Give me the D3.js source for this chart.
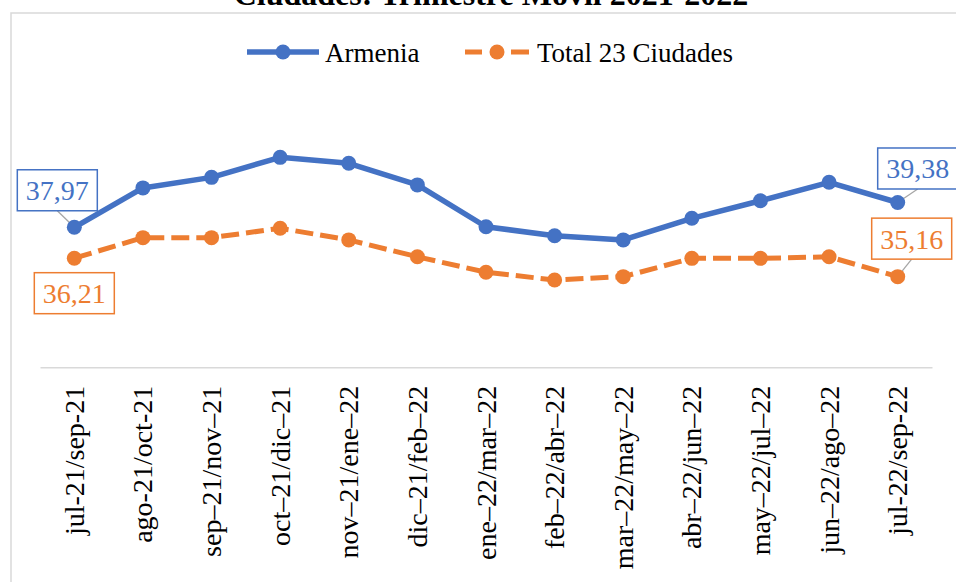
<!DOCTYPE html>
<html>
<head>
<meta charset="utf-8">
<script src="https://cdn.jsdelivr.net/npm/d3@7"></script>
<style>
  body { margin: 0; background: #fff; }
  svg { display: block; font-family: "Liberation Serif", "Times New Roman", serif; }
</style>
</head>
<body>
<div id="chart"></div>
<script>
// Rolling quarters (trimestre móvil)
var periods = [
    "jul-21/sep-21", "ago-21/oct-21", "sep–21/nov–21", "oct–21/dic–21",
    "nov–21/ene–22", "dic–21/feb–22", "ene–22/mar–22", "feb–22/abr–22",
    "mar–22/may–22", "abr–22/jun–22", "may–22/jul–22", "jun–22/ago–22",
    "jul-22/sep-22"
];
var armenia = [37.97, 40.21, 40.81, 41.95, 41.61, 40.38, 38.00, 37.49, 37.25, 38.48, 39.48, 40.53, 39.38];
var total23 = [36.21, 37.38, 37.38, 37.91, 37.25, 36.29, 35.41, 34.97, 35.16, 36.20, 36.20, 36.29, 35.16];
var seriesNames = ["Armenia", "Total 23 Ciudades"];
var titleLine = "Ciudades: Trimestre Móvil 2021-2022";

(function () {
    "use strict";

    var W = 956, H = 582;
    var blue = "#4472C4", orange = "#ED7D31", grey = "#d9d9d9";
    var serif = "Liberation Serif, Times New Roman, serif";

    var svg = d3.select("#chart").append("svg")
        .attr("width", W)
        .attr("height", H);

    // chart area frame (cut off on the right and bottom)
    svg.append("rect")
        .attr("x", 11).attr("y", 13)
        .attr("width", 980).attr("height", 600)
        .attr("fill", "#fff")
        .attr("stroke", grey)
        .attr("stroke-width", 1.5);

    // title, cut off at the top like in the source image
    svg.append("text")
        .attr("x", 491).attr("y", 5)
        .attr("text-anchor", "middle")
        .attr("font-size", "32px")
        .attr("font-weight", "bold")
        .attr("fill", "#000")
        .text(titleLine);

    var x = d3.scaleBand().domain(periods).range([40, 932]).padding(0);
    var y = d3.scaleLinear().domain([30, 45]).range([367.3, 103.75]);
    var cx = function (d, i) { return x(periods[i]) + x.bandwidth() / 2; };

    // X axis
    var xAxis = svg.append("g")
        .attr("transform", "translate(0," + y(30) + ")")
        .call(d3.axisBottom(x).tickSize(0).tickSizeOuter(0));
    xAxis.attr("font-family", serif);
    xAxis.select(".domain").attr("stroke", grey).attr("stroke-width", 1.5);
    xAxis.selectAll(".tick text")
        .attr("font-family", serif)
        .attr("font-size", "28px")
        .attr("fill", "#000")
        .attr("text-anchor", "end")
        .attr("transform", "translate(9.5,18.5) rotate(-90)")
        .attr("x", 0).attr("y", 0).attr("dy", 0);

    var line = d3.line()
        .x(cx)
        .y(function (d) { return y(d); });

    // Total 23 ciudades (dashed)
    svg.append("path")
        .datum(total23)
        .attr("d", line)
        .attr("fill", "none")
        .attr("stroke", orange)
        .attr("stroke-width", 5)
        .attr("stroke-dasharray", "18,7");

    // Armenia
    svg.append("path")
        .datum(armenia)
        .attr("d", line)
        .attr("fill", "none")
        .attr("stroke", blue)
        .attr("stroke-width", 5.5)
        .attr("stroke-linejoin", "round");

    // data labels on first and last points
    var labels = [
        { s: armenia, i: 0, c: blue, dx: -17, dy: -37, lead: true },
        { s: total23, i: 0, c: orange, dx: 0, dy: 35, lead: false },
        { s: armenia, i: 12, c: blue, dx: 20, dy: -34, lead: true },
        { s: total23, i: 12, c: orange, dx: 14, dy: -38, lead: true }
    ];

    labels.forEach(function (l) {
        var px = cx(null, l.i), py = y(l.s[l.i]);
        var bx = px + l.dx, by = py + l.dy;
        if (l.lead) {
            svg.append("line")
                .attr("x1", px).attr("y1", py)
                .attr("x2", bx).attr("y2", by + 20.5)
                .attr("stroke", "#a6a6a6")
                .attr("stroke-width", 1.3);
        }
    });

    // markers
    [[armenia, blue], [total23, orange]].forEach(function (p) {
        svg.append("g").selectAll("circle")
            .data(p[0])
            .join("circle")
            .attr("cx", cx)
            .attr("cy", function (d) { return y(d); })
            .attr("r", 7.5)
            .attr("fill", p[1]);
    });

    labels.forEach(function (l) {
        var px = cx(null, l.i), py = y(l.s[l.i]);
        var bx = px + l.dx, by = py + l.dy;
        svg.append("rect")
            .attr("x", bx - 40).attr("y", by - 20.5)
            .attr("width", 80).attr("height", 41)
            .attr("fill", "#fff")
            .attr("stroke", l.c)
            .attr("stroke-width", 1.5);
        svg.append("text")
            .attr("x", bx).attr("y", by + 10)
            .attr("text-anchor", "middle")
            .attr("font-size", "28px")
            .attr("fill", l.c)
            .text(d3.format(".2f")(l.s[l.i]).replace(".", ","));
    });

    // legend
    var lg = svg.append("g").attr("transform", "translate(0,52)");
    lg.append("line").attr("x1", 247).attr("x2", 319).attr("y1", 0).attr("y2", 0)
        .attr("stroke", blue).attr("stroke-width", 5.5);
    lg.append("circle").attr("cx", 283).attr("cy", 0).attr("r", 7.5).attr("fill", blue);
    lg.append("text").attr("x", 325).attr("y", 9.5).attr("font-size", "27px")
        .attr("fill", "#000").text(seriesNames[0]);

    lg.append("line").attr("x1", 465).attr("x2", 529).attr("y1", 0).attr("y2", 0)
        .attr("stroke", orange).attr("stroke-width", 5)
        .attr("stroke-dasharray", "17,29,18");
    lg.append("circle").attr("cx", 497).attr("cy", 0).attr("r", 7.5).attr("fill", orange);
    lg.append("text").attr("x", 537).attr("y", 9.5).attr("font-size", "27px")
        .attr("fill", "#000").text(seriesNames[1]);
})();
</script>
</body>
</html>
